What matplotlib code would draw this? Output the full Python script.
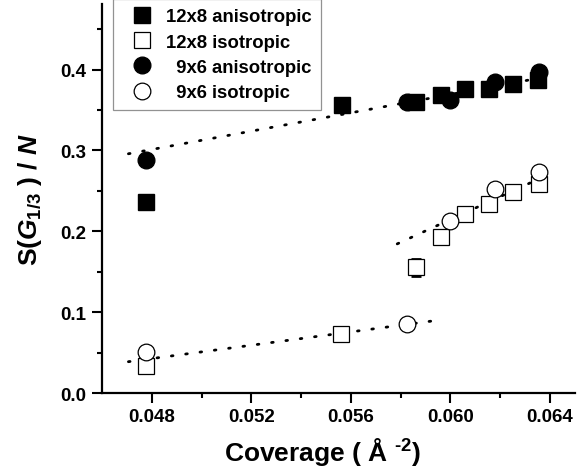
import matplotlib as mpl
import matplotlib.pyplot as plt

mpl.use('Agg')

plt.rcParams['font.family'] = ['Liberation Sans', 'DejaVu Sans']
plt.rcParams['font.weight'] = 'bold'
plt.rcParams['mathtext.fontset'] = 'custom'
plt.rcParams['mathtext.rm'] = 'Liberation Sans:bold'
plt.rcParams['mathtext.it'] = 'Liberation Sans:italic:bold'
plt.rcParams['mathtext.bf'] = 'Liberation Sans:bold'

# 12x8 anisotropic
x_a12 = [0.04775, 0.05564, 0.0586, 0.0596, 0.06057, 0.06156, 0.06253, 0.06352]
y_a12 = [0.236, 0.3556, 0.360, 0.368, 0.376, 0.376, 0.382, 0.3865]
# 12x8 isotropic
x_i12 = [0.04775, 0.05562, 0.0586, 0.0596, 0.0606, 0.06156, 0.06253, 0.06356]
y_i12 = [0.034, 0.073, 0.1555, 0.1927, 0.2215, 0.234, 0.249, 0.2587]
err_i12 = [0, 0, 0.0105, 0, 0, 0, 0, 0]
# 9x6 anisotropic
x_a9 = [0.04775, 0.05826, 0.0600, 0.0618, 0.06356]
y_a9 = [0.2875, 0.360, 0.362, 0.3845, 0.397]
# 9x6 isotropic
x_i9 = [0.04775, 0.05826, 0.0600, 0.0618, 0.06356]
y_i9 = [0.0503, 0.0854, 0.2133, 0.2525, 0.273]

# dotted guide lines (end points)
fit1_x = [0.04706, 0.0635]
fit1_y = [0.2958, 0.389]
fit2_x = [0.04706, 0.05967]
fit2_y = [0.0387, 0.0907]
fit3_x = [0.05786, 0.0635]
fit3_y = [0.1844, 0.264]

fig = plt.figure(figsize=(5.79, 4.77), dpi=100)
ax = fig.add_axes([0.1762, 0.174, 0.8168, 0.8155])

dots = dict(color='black', linewidth=2.0, linestyle=(0, (0.6, 4.6)),
            dash_capstyle='round', zorder=1)
ax.plot(fit1_x, fit1_y, **dots)
ax.plot(fit2_x, fit2_y, **dots)
ax.plot(fit3_x, fit3_y, **dots)

h1, = ax.plot(x_a12, y_a12, 's', color='black', markersize=11, linestyle='none',
              zorder=3)
ax.errorbar(x_i12, y_i12, yerr=err_i12, fmt='none', ecolor='black',
            capsize=3.5, elinewidth=1, capthick=2, zorder=2)
h2, = ax.plot(x_i12, y_i12, 's', mfc='white', mec='black', mew=0.9,
              markersize=11, linestyle='none', zorder=3)
h3, = ax.plot(x_a9, y_a9, 'o', color='black', markersize=12, linestyle='none',
              zorder=4)
h4, = ax.plot(x_i9, y_i9, 'o', mfc='white', mec='black', mew=0.9, markersize=12,
              linestyle='none', zorder=4)

ax.set_xlim(0.046, 0.065)
ax.set_ylim(0, 0.481)
ax.set_xticks([0.048, 0.052, 0.056, 0.060, 0.064])
ax.set_xticklabels(['0.048', '0.052', '0.056', '0.060', '0.064'])
ax.set_xticks([0.050, 0.054, 0.058, 0.062], minor=True)
ax.set_yticks([0.0, 0.1, 0.2, 0.3, 0.4])
ax.set_yticklabels(['0.0', '0.1', '0.2', '0.3', '0.4'])
ax.set_yticks([0.05, 0.15, 0.25, 0.35, 0.45], minor=True)

for s in ['top', 'right']:
    ax.spines[s].set_visible(False)
for s in ['left', 'bottom']:
    ax.spines[s].set_linewidth(1.6)
ax.tick_params(which='major', direction='out', length=7, width=1.5,
               labelsize=13.5, pad=4)
ax.tick_params(which='minor', direction='out', length=3.5, width=1.5)
for lab in ax.get_xticklabels() + ax.get_yticklabels():
    lab.set_fontweight('bold')

ax.set_xlabel(r'Coverage ( Å $^{\text{-2}}$)', fontsize=19, fontweight='bold',
              labelpad=7)
ax.xaxis.label.set_x(0.467)
ax.set_ylabel(r'S($G_{\mathit{1/3}}$ ) / $N$', fontsize=19, fontweight='bold',
              labelpad=12)

labels = ['12x8 anisotropic', '12x8 isotropic', '  9x6 anisotropic', '  9x6 isotropic']
leg = ax.legend([h1, h2, h3, h4], labels, loc='upper left',
                bbox_to_anchor=(0.023, 1.013), borderaxespad=0, numpoints=1,
                frameon=True, fancybox=False, edgecolor='#777777',
                handlelength=2.1, handletextpad=0.3, labelspacing=0.45,
                borderpad=0.5, prop={'weight': 'bold', 'size': 13.3})
leg.get_frame().set_linewidth(0.9)

fig.savefig('out.png', dpi=100)
